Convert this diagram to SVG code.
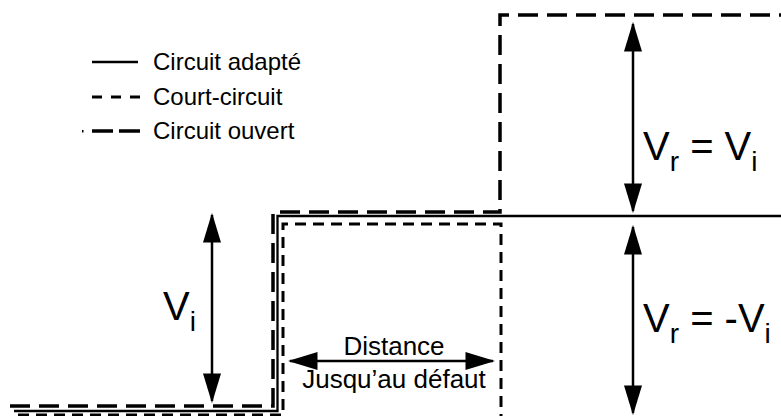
<svg xmlns="http://www.w3.org/2000/svg" width="781" height="416" viewBox="0 0 781 416">
<style>
.t{font-family:"Liberation Sans",Arial,sans-serif;fill:#000}
.leg{font-size:24px}
.big{font-size:40px}
.mid{font-size:26px}
.open{fill:none;stroke:#000;stroke-width:3.5;stroke-dasharray:20 9}
.short{fill:none;stroke:#000;stroke-width:3;stroke-dasharray:11 7}
.solid{fill:none;stroke:#000;stroke-width:2.3}
.arr{fill:none;stroke:#000;stroke-width:2.5;marker-start:url(#ah);marker-end:url(#ah)}
</style>
<defs>
<marker id="ah" markerUnits="userSpaceOnUse" markerWidth="30" markerHeight="18" viewBox="0 0 28 17" refX="26" refY="8.5" orient="auto-start-reverse">
<path d="M0,0 L28,8.5 L0,17 z" fill="#000"/>
</marker>
</defs>
<g id="connectors">
<path class="open" d="M10,406 H273 V212 H500 V15 H781"/>
<path class="solid" d="M14,411 H277.5 V216 H781"/>
<path class="short" d="M18,415 H283 V224 H501 V416"/>
<line class="arr" x1="212" y1="215" x2="212" y2="401"/>
<line class="arr" x1="633" y1="24" x2="633" y2="211"/>
<line class="arr" x1="633" y1="227" x2="633" y2="413"/>
<line class="arr" x1="290" y1="361" x2="493" y2="361"/>
</g>
<g id="legend">
<line class="solid" x1="92" y1="62" x2="138" y2="62"/>
<text class="t leg" x="153" y="70">Circuit adapté</text>
<line class="short" x1="92" y1="97" x2="140" y2="97" style="stroke-dasharray:10 9"/>
<text class="t leg" x="153" y="105">Court-circuit</text>
<rect x="82" y="130" width="1.5" height="2.5" fill="#000"/>
<line class="open" x1="92" y1="131" x2="140" y2="131" style="stroke-dasharray:21 6"/>
<text class="t leg" x="153" y="139">Circuit ouvert</text>
</g>
<g id="label-vi">
<text class="t big" x="163" y="320">V<tspan font-size="28" dy="11">i</tspan></text>
</g>
<g id="label-vr-open">
<text class="t big" x="643" y="160">V<tspan font-size="28" dy="11">r</tspan><tspan dy="-11"> = V</tspan><tspan font-size="28" dy="11">i</tspan></text>
</g>
<g id="label-vr-short">
<text class="t big" x="643" y="332">V<tspan font-size="28" dy="11">r</tspan><tspan dy="-11"> = -V</tspan><tspan font-size="28" dy="11">i</tspan></text>
</g>
<g id="label-distance">
<text class="t mid" x="394" y="355" text-anchor="middle">Distance</text>
<text class="t mid" x="394" y="388" text-anchor="middle">Jusqu’au défaut</text>
</g>
</svg>
